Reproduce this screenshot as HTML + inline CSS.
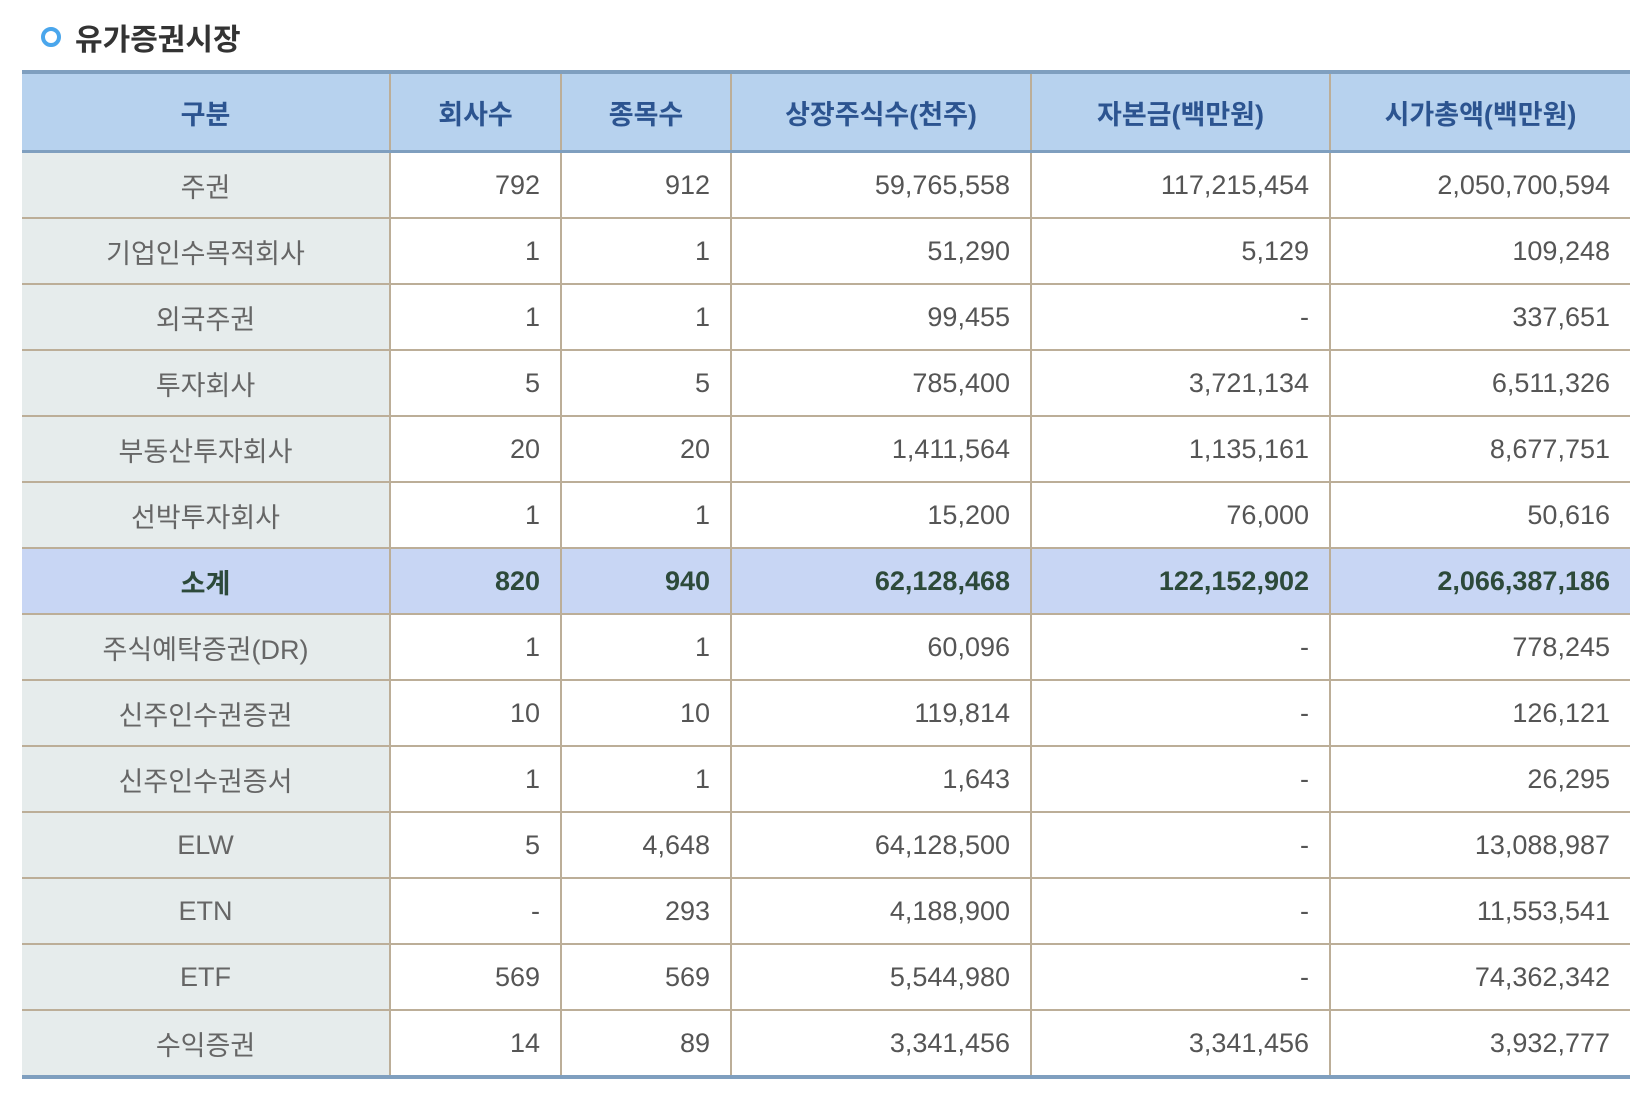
<!DOCTYPE html>
<html><head><meta charset="utf-8"><style>
body{margin:0;width:1650px;height:1098px;background:#fff;font-family:"Liberation Sans","Noto Sans CJK KR",sans-serif;overflow:hidden}
.title{position:absolute;left:41px;top:14px;height:46px;display:flex;align-items:center;font-size:30px;font-weight:bold;color:#333}
.ic{width:12px;height:12px;border:4px solid #4aa6ec;border-radius:50%;margin-right:14px}
table{position:absolute;left:22px;top:70px;width:1608px;border-collapse:collapse;table-layout:fixed;border-top:4px solid #7f9fbf;border-bottom:4px solid #7f9fbf}
th{background:#b7d2ee;color:#2c5490;font-size:27px;height:74px;border-left:2px solid #bcae98;border-bottom:3px solid #7f9fbf}
td{height:64px;border:2px solid #bcae98;font-size:27px;color:#555;text-align:right;padding:0 20px 0 0}
td:first-child{background:#e6ecec;text-align:center;color:#666;padding:0;border-left:none}
th:first-child{border-left:none}
td:last-child{border-right:none}
tr.sub td{background:#c8d6f4;color:#2d4a3a;font-weight:bold}
</style></head><body>
<div class="title"><span class="ic"></span>유가증권시장</div>
<table>
<colgroup><col style="width:368px"><col style="width:171px"><col style="width:170px"><col style="width:300px"><col style="width:299px"><col style="width:300px"></colgroup>
<thead><tr><th>구분</th><th>회사수</th><th>종목수</th><th>상장주식수(천주)</th><th>자본금(백만원)</th><th>시가총액(백만원)</th></tr></thead>
<tbody>
<tr><td>주권</td><td>792</td><td>912</td><td>59,765,558</td><td>117,215,454</td><td>2,050,700,594</td></tr>
<tr><td>기업인수목적회사</td><td>1</td><td>1</td><td>51,290</td><td>5,129</td><td>109,248</td></tr>
<tr><td>외국주권</td><td>1</td><td>1</td><td>99,455</td><td>-</td><td>337,651</td></tr>
<tr><td>투자회사</td><td>5</td><td>5</td><td>785,400</td><td>3,721,134</td><td>6,511,326</td></tr>
<tr><td>부동산투자회사</td><td>20</td><td>20</td><td>1,411,564</td><td>1,135,161</td><td>8,677,751</td></tr>
<tr><td>선박투자회사</td><td>1</td><td>1</td><td>15,200</td><td>76,000</td><td>50,616</td></tr>
<tr class="sub"><td>소계</td><td>820</td><td>940</td><td>62,128,468</td><td>122,152,902</td><td>2,066,387,186</td></tr>
<tr><td>주식예탁증권(DR)</td><td>1</td><td>1</td><td>60,096</td><td>-</td><td>778,245</td></tr>
<tr><td>신주인수권증권</td><td>10</td><td>10</td><td>119,814</td><td>-</td><td>126,121</td></tr>
<tr><td>신주인수권증서</td><td>1</td><td>1</td><td>1,643</td><td>-</td><td>26,295</td></tr>
<tr><td>ELW</td><td>5</td><td>4,648</td><td>64,128,500</td><td>-</td><td>13,088,987</td></tr>
<tr><td>ETN</td><td>-</td><td>293</td><td>4,188,900</td><td>-</td><td>11,553,541</td></tr>
<tr><td>ETF</td><td>569</td><td>569</td><td>5,544,980</td><td>-</td><td>74,362,342</td></tr>
<tr><td>수익증권</td><td>14</td><td>89</td><td>3,341,456</td><td>3,341,456</td><td>3,932,777</td></tr>
</tbody></table>
</body></html>
